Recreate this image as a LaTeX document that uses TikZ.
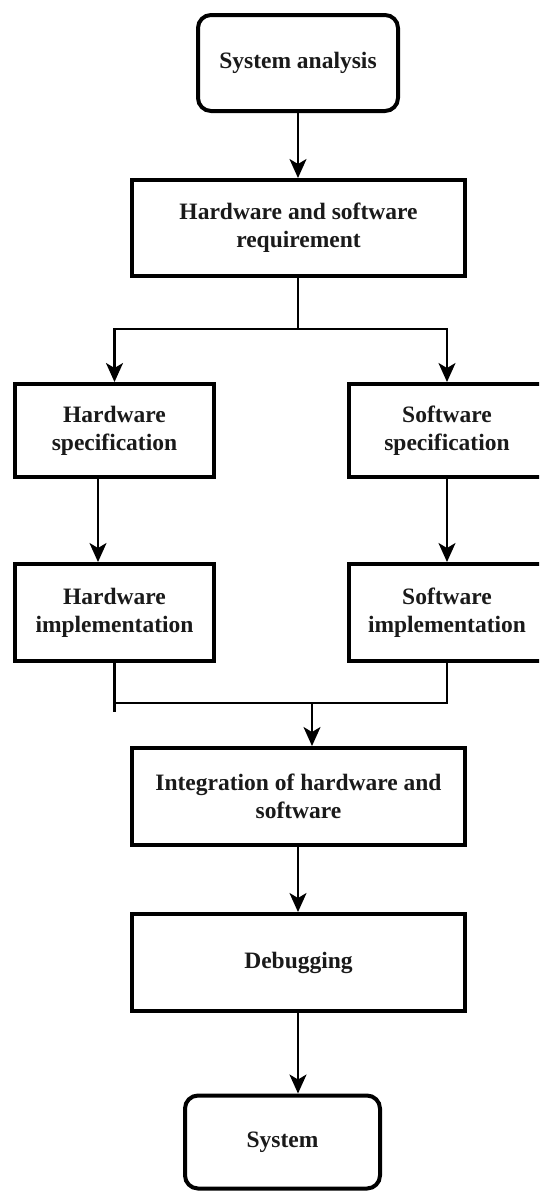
\documentclass[tikz,border=0pt]{standalone}
\usepackage{fontspec}
\setmainfont{Liberation Serif}
\usetikzlibrary{arrows.meta}
\definecolor{ink}{HTML}{1A1A1A}
\tikzset{
  box/.style={draw=black, line width=4pt, fill=white, inner sep=0pt, align=center,
    text=ink, font=\fontsize{23.5}{28}\selectfont\bfseries},
  rbox/.style={box, rounded corners=13pt},
  conn/.style={draw=black, line width=2.2pt},
  arr/.style={conn, -{Stealth[width=17pt,length=19pt,inset=5pt]}},
}
\begin{document}
\begin{tikzpicture}[x=1pt,y=1pt]
\useasboundingbox (0,0) rectangle (539,-1192);
\fill[white] (0,0) rectangle (539,-1192);
\clip (0,0) rectangle (539,-1192);

\node[rbox, minimum width=200pt, minimum height=96pt] (sa) at (298,-63) {System analysis};
\node[box, minimum width=333pt, minimum height=96pt] (hsr) at (298.5,-228) {Hardware and software\\requirement};
\node[box, minimum width=199pt, minimum height=93pt] (hs) at (114.5,-430.5) {Hardware\\specification};
\node[box, minimum width=197pt, minimum height=93pt] (ss) at (447,-430.5) {Software\\specification};
\node[box, minimum width=199pt, minimum height=97pt] (hi) at (114.5,-612.5) {Hardware\\implementation};
\node[box, minimum width=197pt, minimum height=97pt] (si) at (447,-612.5) {Software\\implementation};
\node[box, minimum width=333pt, minimum height=97pt] (ihs) at (298.5,-796.5) {Integration of hardware and\\software};
\node[box, minimum width=333pt, minimum height=97pt] (dbg) at (298.5,-962.5) {Debugging};
\node[rbox, minimum width=195pt, minimum height=93pt] (sys) at (282.5,-1142) {System};

\coordinate (split) at (298,-329);
\coordinate (merge) at (312,-703);
\coordinate (stub) at (114.5,-712);

\draw[arr] (sa.south) -- (hsr.north -| sa.south);
\draw[conn] (hsr.south -| split) -- (split);
\draw[arr] (split) -| (hs.north);
\draw[arr] (split) -| (ss.north);
\draw[arr] ([xshift=-16.5pt]hs.south) -- ([xshift=-16.5pt]hi.north);
\draw[arr] (ss.south) -- (si.north);
\draw[conn] (hi.south) -- (stub);
\draw[conn] (hi.south |- merge) -- (si.south |- merge) -- (si.south);
\draw[arr] (merge) -- (ihs.north -| merge);
\draw[arr] (ihs.south -| sa.south) -- (dbg.north -| sa.south);
\draw[arr] (dbg.south -| sa.south) -- (sys.north -| sa.south);
\end{tikzpicture}
\end{document}
